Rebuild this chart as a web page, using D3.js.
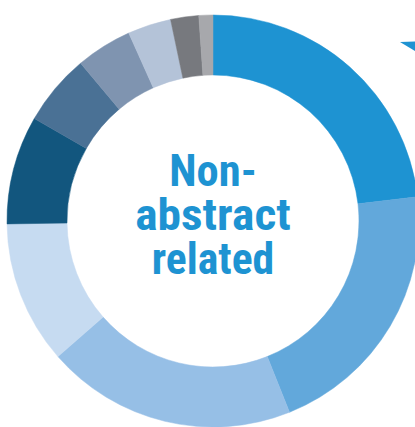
<!DOCTYPE html>
<html>
<head>
<meta charset="utf-8">
<script src="https://cdn.jsdelivr.net/npm/d3@7"></script>
<style>
html,body{margin:0;padding:0;background:#fff;overflow:hidden;}
svg{display:block;}
</style>
</head>
<body>
<svg id="chart" width="415" height="427"></svg>
<script>
// Data (shares of the ring, clockwise from 12 o'clock)
const categories = ["S1","S2","S3","S4","S5","S6","S7","S8","S9","S10"];
const values = [23.1, 20.8, 19.6, 11.2, 8.5, 5.6, 4.4, 3.4, 2.2, 1.1];
const colors = ["#1E93D2","#62A8DB","#96BFE6","#C6DBF1","#12567E","#4A7195","#7F94B0","#B4C3D8","#77797E","#A7A8AC"];
const titleLines = ["Non-","abstract","related"];

const svg = d3.select("#chart");
const cx = 213, cy = 221, R = 206, r = 146;

const pie = d3.pie().sort(null).value(d => d.v).startAngle(0).endAngle(2*Math.PI);
const arc = d3.arc().innerRadius(r).outerRadius(R);
const data = categories.map((c,i)=>({c, v: values[i], col: colors[i]}));

const g = svg.append("g").attr("transform", `translate(${cx},${cy})`);
g.selectAll("path").data(pie(data)).join("path")
  .attr("d", arc)
  .attr("fill", d => d.data.col)
  .attr("stroke", d => d.data.col)
  .attr("stroke-width", 0.5);

// small arrow tip at top right
svg.append("polygon")
  .attr("points", "400,42 415,41.5 415,51")
  .attr("fill", "#1E93D2");

// centre label
const baselines = [186, 229.5, 273.5];
const widths = [87.5, 155.5, 122.5];
const t = svg.append("g");
titleLines.forEach((s,i)=>{
  t.append("text")
    .attr("x", cx)
    .attr("y", baselines[i])
    .attr("text-anchor","middle")
    .attr("font-family","'Liberation Sans Narrow','Roboto Condensed','Liberation Sans',Arial,sans-serif")
    .attr("font-weight","bold")
    .attr("font-size", 45)
    .attr("fill","#1E93D2")
    .attr("textLength", widths[i])
    .attr("lengthAdjust","spacingAndGlyphs")
    .text(s);
});
</script>
</body>
</html>
